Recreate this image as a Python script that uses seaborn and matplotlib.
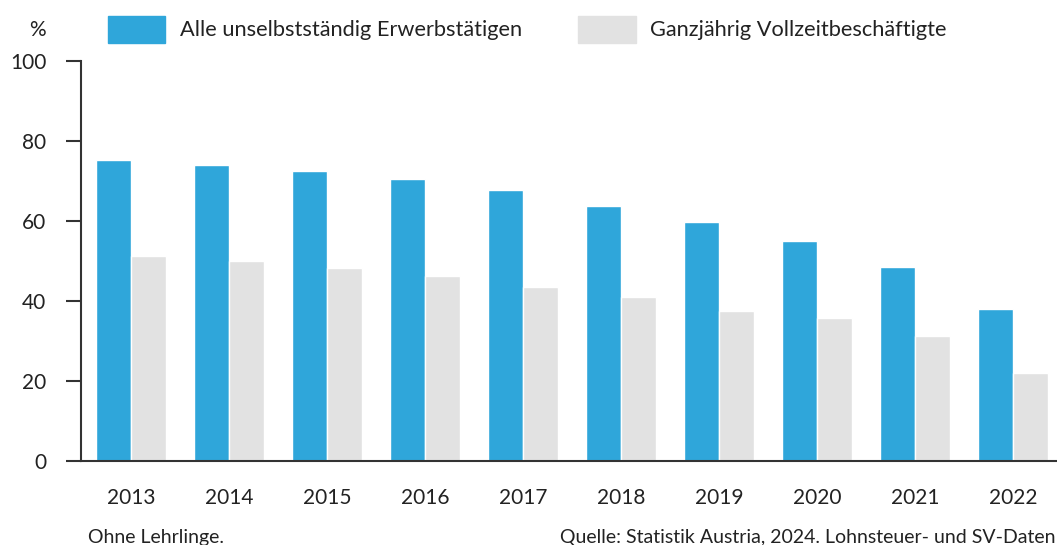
import pandas as pd
import matplotlib.pyplot as plt
import seaborn as sns

# Data (percent)
years = ["2013", "2014", "2015", "2016", "2017", "2018", "2019", "2020", "2021", "2022"]
alle = [75.2, 74.0, 72.5, 70.5, 67.7, 63.7, 59.7, 55.0, 48.5, 38.0]
vollzeit = [51.2, 50.0, 48.2, 46.2, 43.5, 41.0, 37.5, 35.7, 31.2, 22.0]
series_names = ["Alle unselbstständig Erwerbstätigen", "Ganzjährig Vollzeitbeschäftigte"]
colors = ["#2fa6da", "#e2e2e2"]


def build_frame():
    df = pd.DataFrame({"Jahr": years, series_names[0]: alle, series_names[1]: vollzeit})
    return df.melt(id_vars="Jahr", var_name="Gruppe", value_name="Wert")


def plot_chart(df):
    sns.set_style("white")
    plt.rcParams["font.family"] = ["Lato", "DejaVu Sans"]

    fig = plt.figure(figsize=(10.57, 5.45), dpi=100)
    ax = fig.add_axes([0.0766, 0.154, 0.9234, 0.734])

    sns.barplot(data=df, x="Jahr", y="Wert", hue="Gruppe", palette=colors,
                width=0.714, gap=0, saturation=1, ax=ax, legend=False)

    ax.set_ylim(0, 100)
    ax.set_xlim(-0.51, 9.45)
    ax.set_yticks([0, 20, 40, 60, 80, 100])
    ax.set_xlabel("")
    ax.set_ylabel("")
    ax.spines[["top", "right"]].set_visible(False)
    for side in ["left", "bottom"]:
        ax.spines[side].set_color("#333333")
        ax.spines[side].set_linewidth(1.5)
    ax.tick_params(axis="y", left=True, length=11, width=1.5, color="#333333",
                   labelsize=15, pad=14, labelcolor="#222222")
    ax.tick_params(axis="x", bottom=False, labelsize=15, pad=16, labelcolor="#222222")

    # Legend drawn by hand across the top
    fig.text(37 / 1057, 1 - 30 / 545, "%", fontsize=15, ha="center", va="center", color="#222222")
    fig.patches.append(plt.Rectangle((108 / 1057, 1 - 43 / 545), 57 / 1057, 27 / 545,
                                     transform=fig.transFigure, color=colors[0]))
    fig.text(180 / 1057, 1 - 30 / 545, series_names[0], fontsize=15.7, va="center", color="#222222")
    fig.patches.append(plt.Rectangle((578 / 1057, 1 - 43 / 545), 58 / 1057, 27 / 545,
                                     transform=fig.transFigure, color=colors[1]))
    fig.text(650 / 1057, 1 - 30 / 545, series_names[1], fontsize=15.7, va="center", color="#222222")

    # Footnotes
    fig.text(88 / 1057, 1 - 537 / 545, "Ohne Lehrlinge.", fontsize=14, va="center", color="#222222")
    fig.text(1055 / 1057, 1 - 537 / 545, "Quelle: Statistik Austria, 2024. Lohnsteuer- und SV-Daten",
             fontsize=14, ha="right", va="center", color="#222222")

    fig.savefig("out.png", dpi=100)


def main():
    df = build_frame()
    plot_chart(df)


if __name__ == "__main__":
    main()
